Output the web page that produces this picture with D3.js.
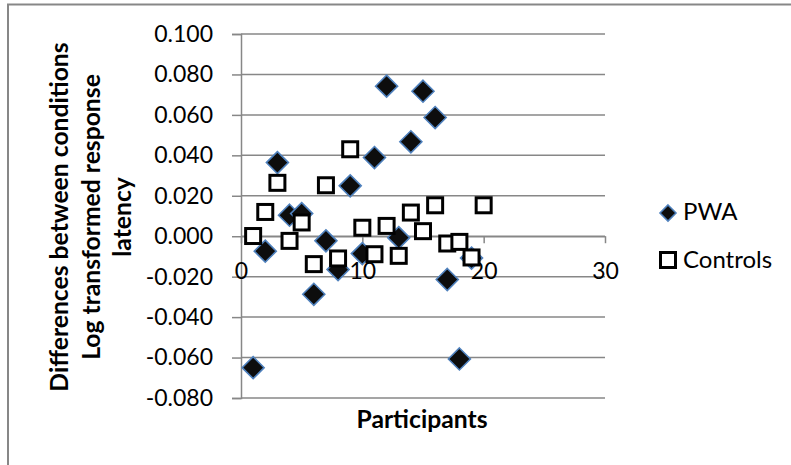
<!DOCTYPE html>
<html>
<head>
<meta charset="utf-8">
<script src="https://cdn.jsdelivr.net/npm/d3@7/dist/d3.min.js"></script>
<style>
  html, body { margin: 0; padding: 0; background: #fff; }
  svg { display: block; }
  text { font-family: Lato, "Open Sans", sans-serif; fill: #000; }
</style>
</head>
<body>
<svg id="chart" width="791" height="465"></svg>
<script>
// ---- data ----
const pwaX = [1, 2, 3, 4, 5, 6, 7, 8, 9, 10, 11, 12, 13, 14, 15, 16, 17, 18, 19];
const pwaY = [-0.065, -0.0074, 0.0364, 0.0104, 0.0112, -0.0287, -0.0023, -0.0165, 0.0249, -0.0086,
              0.0389, 0.0742, -0.0007, 0.0467, 0.0717, 0.0587, -0.0214, -0.0607, -0.0108];
const ctrlX = [1, 2, 3, 4, 5, 6, 7, 8, 9, 10, 11, 12, 13, 14, 15, 16, 17, 18, 19, 20];
const ctrlY = [0.0001, 0.012, 0.0264, -0.0023, 0.0068, -0.0138, 0.0252, -0.011, 0.043, 0.0042,
               -0.0089, 0.0051, -0.0097, 0.0117, 0.0025, 0.0153, -0.0036, -0.0028, -0.0105, 0.0153];
const yTicks = [-0.08, -0.06, -0.04, -0.02, 0, 0.02, 0.04, 0.06, 0.08, 0.1];
const xTicks = [0, 10, 20, 30];
const seriesNames = ["PWA", "Controls"];
const yTitleLines = ["Differences between conditions", "Log transformed response", "latency"];
const xTitle = "Participants";

// ---- layout ----
const svg = d3.select("#chart");
const x = d3.scaleLinear().domain([0, 30]).range([241, 605]);
const y = d3.scaleLinear().domain([-0.08, 0.1]).range([398, 34]);
const grid = "#878787";

// chart area border (top + left visible)
svg.append("path")
  .attr("d", "M8,470 L8,4.5 L795,4.5")
  .attr("fill", "none").attr("stroke", grid).attr("stroke-width", 2);

// gridlines
svg.append("g").selectAll("line").data(yTicks).join("line")
  .attr("x1", x(0)).attr("x2", x(30))
  .attr("y1", d => y(d)).attr("y2", d => y(d))
  .attr("stroke", grid).attr("stroke-width", 1.5);

// y axis
const yAxis = svg.append("g").attr("transform", `translate(${x(0)},0)`)
  .call(d3.axisLeft(y).tickValues(yTicks).tickSize(9).tickPadding(19)
    .tickFormat(d => d.toFixed(3)));
yAxis.select(".domain").attr("stroke", grid).attr("stroke-width", 1.5);
yAxis.selectAll(".tick line").attr("stroke", grid).attr("stroke-width", 1.5);
yAxis.selectAll("text").attr("font-size", 23).attr("font-family", "Lato").attr("fill", "#000");

// x axis at y = 0
const xAxis = svg.append("g").attr("transform", `translate(0,${y(0)})`)
  .call(d3.axisBottom(x).tickValues(xTicks).tickSize(7).tickSizeOuter(0));
xAxis.select(".domain").attr("stroke", grid).attr("stroke-width", 1.5);
xAxis.selectAll(".tick line").attr("stroke", grid).attr("stroke-width", 1.5);
xAxis.selectAll("text").attr("font-size", 23).attr("font-family", "Lato").attr("fill", "#000")
  .attr("dy", null).attr("y", 43);

// markers
const diamond = s => `M0,${-s}L${s},0L0,${s}L${-s},0Z`;
svg.append("g").selectAll("path").data(pwaX.map((d, i) => [d, pwaY[i]])).join("path")
  .attr("transform", d => `translate(${x(d[0])},${y(d[1])})`)
  .attr("d", diamond(11))
  .attr("fill", "#0d0d0d").attr("stroke", "#4f81bd").attr("stroke-width", 1.6);

svg.append("g").selectAll("rect").data(ctrlX.map((d, i) => [d, ctrlY[i]])).join("rect")
  .attr("x", d => x(d[0]) - 7.5).attr("y", d => y(d[1]) - 7.5)
  .attr("width", 15).attr("height", 15)
  .attr("fill", "#fff").attr("stroke", "#000").attr("stroke-width", 3);

// legend
const lg = svg.append("g");
lg.append("path").attr("transform", "translate(668,213)").attr("d", diamond(8))
  .attr("fill", "#0d0d0d").attr("stroke", "#4f81bd").attr("stroke-width", 1.6);
lg.append("text").attr("x", 683).attr("y", 220).attr("font-size", 24).text(seriesNames[0]);
lg.append("rect").attr("x", 660.5).attr("y", 252.5).attr("width", 15).attr("height", 15)
  .attr("fill", "#fff").attr("stroke", "#000").attr("stroke-width", 3);
lg.append("text").attr("x", 683).attr("y", 268).attr("font-size", 24).text(seriesNames[1]);

// axis titles
const yt = svg.append("text")
  .attr("transform", "translate(0,217) rotate(-90)")
  .attr("text-anchor", "middle").attr("font-size", 24.7).attr("font-weight", "bold");
yt.selectAll("tspan").data(yTitleLines).join("tspan")
  .attr("x", 0).attr("y", (d, i) => [68, 99.5, 131][i]).text(d => d);

svg.append("text").attr("x", 422).attr("y", 428).attr("text-anchor", "middle")
  .attr("font-size", 24.7).attr("font-weight", "bold").text(xTitle);
</script>
</body>
</html>
